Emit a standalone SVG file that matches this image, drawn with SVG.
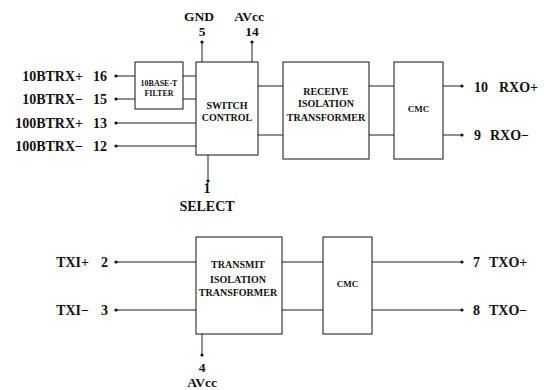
<svg xmlns="http://www.w3.org/2000/svg" width="544" height="390" viewBox="0 0 544 390">
<style>
.box{fill:#fff;stroke:#111;stroke-width:1}
.w{stroke:#222;stroke-width:1;fill:none}
.dot{fill:#111}
text{font-family:"Liberation Serif","Times New Roman","DejaVu Serif",serif;font-weight:bold;fill:#111}
.lb{font-size:14px}
.tp{font-size:13.5px}
.in{font-size:10px;text-anchor:middle}
.sm{font-size:8px;text-anchor:middle}
.e{text-anchor:end}
.m{text-anchor:middle}
</style>
<rect width="544" height="390" fill="#fff"/>
<g id="connectors">
<path class="w" d="M116 76H135M183 76H196M116 99H135M183 99H196M116 123H196M116 146H196"/>
<path class="w" d="M202 42V62M252 42V62M208 155V181"/>
<path class="w" d="M258 86H283M258 135H283M369 86H394M369 135H394M443 86H462M443 135H462"/>
<path class="w" d="M116 262H196M116 310H196M282 262H323M282 310H323M372 262H462M372 310H462M202 334V355"/>
<circle class="dot" cx="116" cy="76" r="1.6"/>
<circle class="dot" cx="116" cy="99" r="1.6"/>
<circle class="dot" cx="116" cy="123" r="1.6"/>
<circle class="dot" cx="116" cy="146" r="1.6"/>
<circle class="dot" cx="202" cy="42" r="1.6"/>
<circle class="dot" cx="252" cy="42" r="1.6"/>
<circle class="dot" cx="208" cy="181" r="1.6"/>
<circle class="dot" cx="462" cy="86" r="1.6"/>
<circle class="dot" cx="462" cy="135" r="1.6"/>
<circle class="dot" cx="116" cy="262" r="1.6"/>
<circle class="dot" cx="116" cy="310" r="1.6"/>
<circle class="dot" cx="462" cy="262" r="1.6"/>
<circle class="dot" cx="462" cy="310" r="1.6"/>
<circle class="dot" cx="202" cy="355" r="1.6"/>
</g>
<g id="filter">
<rect class="box" x="135" y="62" width="48" height="47"/>
<text class="sm" x="159" y="86">10BASE-T</text>
<text class="sm" x="159" y="95.5">FILTER</text>
</g>
<g id="switch">
<rect class="box" x="196" y="62" width="62" height="93"/>
<text class="in" x="227" y="109">SWITCH</text>
<text class="in" x="227" y="121">CONTROL</text>
</g>
<g id="rxiso">
<rect class="box" x="283" y="62" width="86" height="97"/>
<text class="in" x="326" y="95">RECEIVE</text>
<text class="in" x="326" y="107">ISOLATION</text>
<text class="in" x="326" y="121">TRANSFORMER</text>
</g>
<g id="rxcmc">
<rect class="box" x="394" y="62" width="49" height="97"/>
<text class="sm" x="418.5" y="112" style="font-size:9px">CMC</text>
</g>
<g id="txiso">
<rect class="box" x="196" y="237" width="86" height="97"/>
<text class="in" x="238" y="268">TRANSMIT</text>
<text class="in" x="238" y="283">ISOLATION</text>
<text class="in" x="238" y="296">TRANSFORMER</text>
</g>
<g id="txcmc">
<rect class="box" x="323" y="237" width="49" height="97"/>
<text class="sm" x="347.5" y="287" style="font-size:9px">CMC</text>
</g>
<g id="labels">
<text class="lb e" x="83" y="81">10BTRX+</text><text class="lb" x="93" y="81">16</text>
<text class="lb e" x="83" y="104">10BTRX−</text><text class="lb" x="93" y="104">15</text>
<text class="lb e" x="83" y="128">100BTRX+</text><text class="lb" x="93" y="128">13</text>
<text class="lb e" x="83" y="151">100BTRX−</text><text class="lb" x="93" y="151">12</text>
<text class="tp m" x="199" y="20.5">GND</text><text class="tp m" x="202" y="35.5">5</text>
<text class="tp m" x="249" y="20.5">AVcc</text><text class="tp m" x="252" y="35.5">14</text>
<text class="lb m" x="207" y="193">1</text><text class="lb m" x="207" y="211">SELECT</text>
<text class="lb" x="474" y="92">10</text><text class="lb" x="499" y="92">RXO+</text>
<text class="lb" x="474" y="140">9</text><text class="lb" x="490" y="140">RXO−</text>
<text class="lb e" x="89" y="267">TXI+</text><text class="lb" x="101" y="267">2</text>
<text class="lb e" x="89" y="315">TXI−</text><text class="lb" x="101" y="315">3</text>
<text class="lb" x="473" y="267">7</text><text class="lb" x="489" y="267">TXO+</text>
<text class="lb" x="473" y="315">8</text><text class="lb" x="489" y="315">TXO−</text>
<text class="tp m" x="202" y="371.5">4</text><text class="tp m" x="202" y="387">AVcc</text>
</g>
</svg>
